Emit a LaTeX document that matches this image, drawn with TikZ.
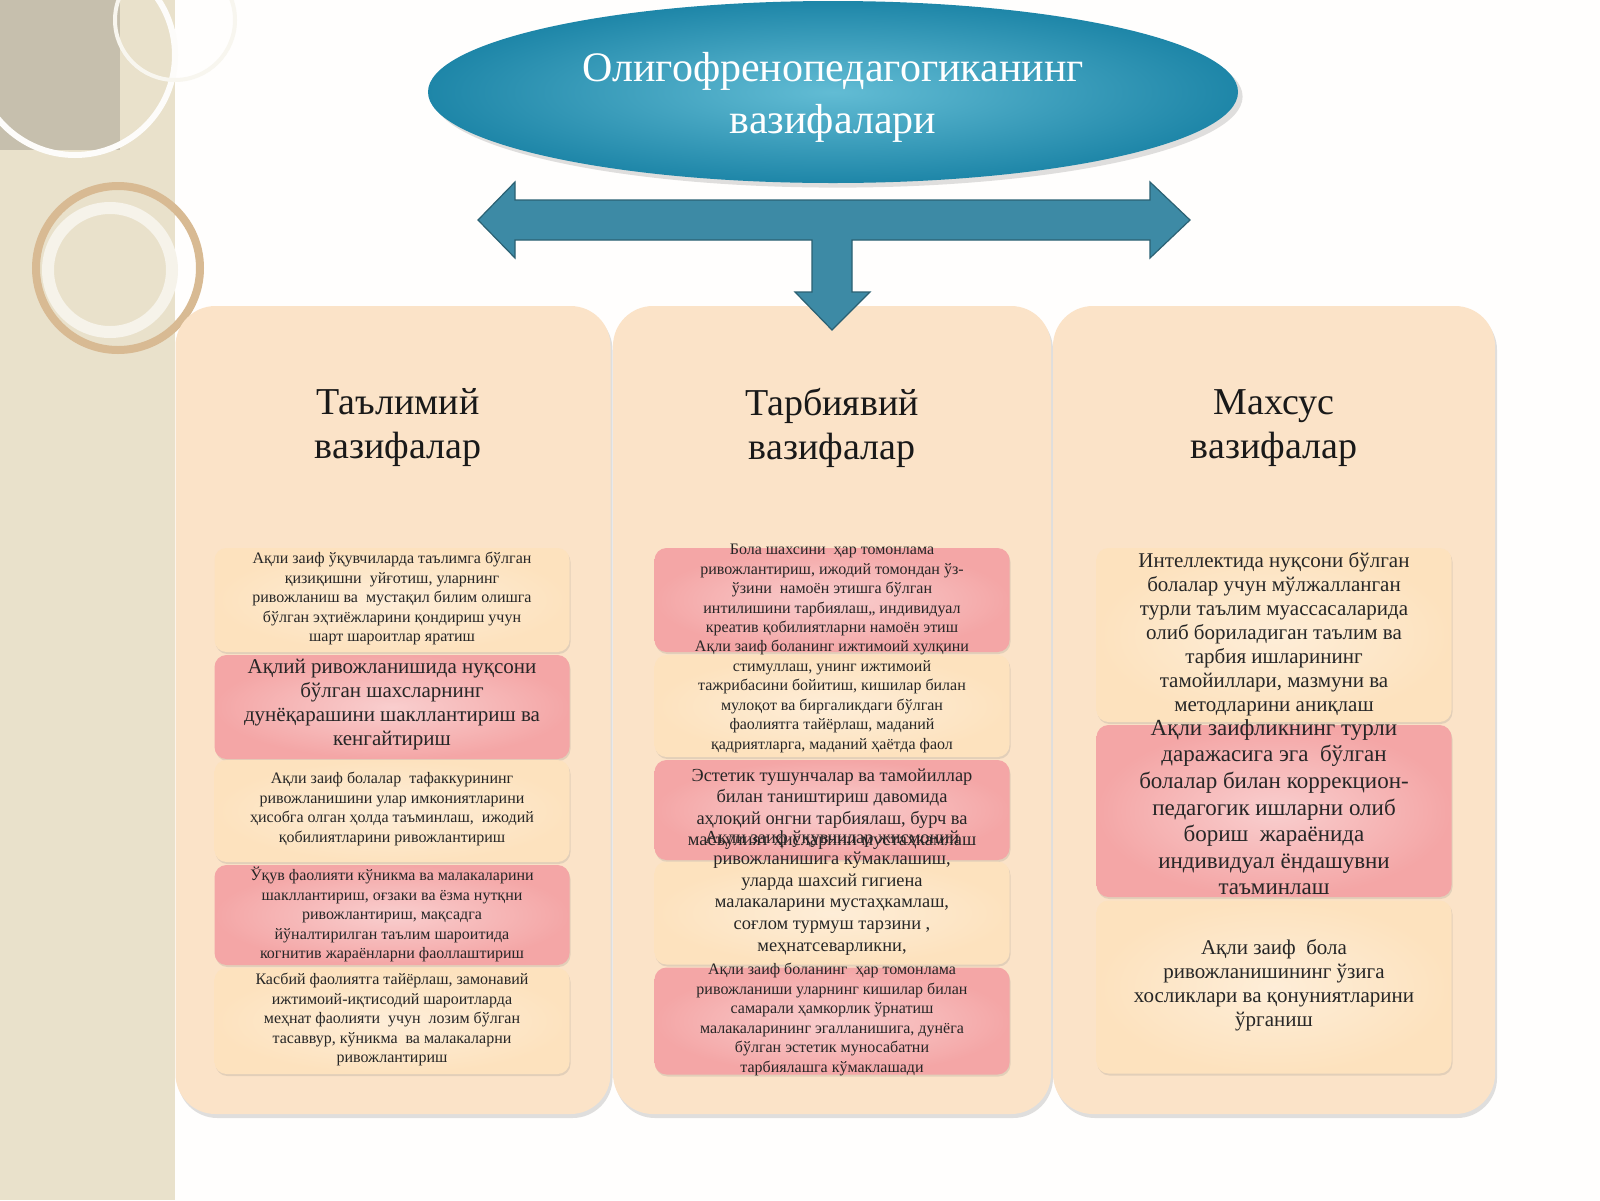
\documentclass[tikz,border=0pt]{standalone}
\usepackage{fontspec}
\setmainfont{Liberation Serif}
\usetikzlibrary{shadows,shapes.geometric}
\definecolor{peach}{HTML}{FBE3C8}
\definecolor{boxpeach}{HTML}{FDE2BE}
\definecolor{boxpink}{HTML}{F4A6A6}
\definecolor{teal1}{HTML}{1E86A8}
\definecolor{teal2}{HTML}{62BCD4}
\definecolor{arrowc}{HTML}{3D8AA5}
\definecolor{strip}{HTML}{E9E1CB}
\begin{document}
\begin{tikzpicture}[x=0.5pt,y=-0.5pt,
  col/.style={draw=none,fill=peach,rounded corners=20pt,drop shadow={shadow xshift=1pt,shadow yshift=-2pt,opacity=0.25}},
  bx/.style={rounded corners=6pt,draw=none,drop shadow={shadow xshift=0.5pt,shadow yshift=-1pt,opacity=0.2}},
  pe/.style={bx,inner color=boxpeach!60!white,outer color=boxpeach},
  pk/.style={bx,inner color=boxpink!55!white,outer color=boxpink},
  sm/.style={anchor=north,inner sep=0,align=center,font=\fontsize{8}{9.75}\selectfont,text=black!85},
  md/.style={anchor=north,inner sep=0,align=center,font=\fontsize{9.2}{10.8}\selectfont,text=black!85},
  lg/.style={anchor=north,inner sep=0,align=center,font=\fontsize{10.5}{12}\selectfont,text=black!85},
  hd/.style={align=center,inner sep=0,font=\fontsize{19}{22}\selectfont,text=black!90}]
\useasboundingbox (0,0) rectangle (1600,1200);
\fill[white!97!peach] (0,0) rectangle (1600,1200);
\fill[strip] (0,0) rectangle (175,1200);
\fill[black!15!strip] (0,0) rectangle (120,150);
\draw[white!90!strip,line width=3pt] (75,55) circle (100);
\draw[white!70!strip,line width=2pt] (175,20) circle (60);
\draw[brown!40!strip,line width=4pt] (118,268) circle (82);
\draw[white!60!strip,line width=6pt] (110,270) circle (62);
% columns
\node[col,minimum width=217.5pt,minimum height=404pt] (c1) at (393,710) {};
\node[col,minimum width=219pt,minimum height=404pt] (c2) at (832,710) {};
\node[col,minimum width=221pt,minimum height=404pt] (c3) at (1274,710) {};
% ellipse
\node[ellipse,minimum width=405pt,minimum height=91pt,draw=none,inner color=teal2,outer color=teal1,drop shadow={opacity=0.25}] (el) at (833,92) {};
\node[align=center,text=white,font=\fontsize{21}{26}\selectfont] (title) at (833,97) {Олигофренопедагогиканинг\\вазифалари};
% arrow
\filldraw[fill=arrowc,draw=arrowc!70!black,line width=0.6pt]
 (515,200) -- (1150,200) -- (1150,182) -- (1190,220) -- (1150,258) -- (1150,240)
 -- (852,240) -- (852,292) -- (870,292) -- (832,330) -- (795,292) -- (812,292)
 -- (812,240) -- (515,240) -- (515,258) -- (478,220) -- (515,182) -- cycle;
% headings
\node[hd] (h1) at (398,428) {Таълимий\\вазифалар};
\node[hd] (h2) at (832,428) {Тарбиявий\\вазифалар};
\node[hd] (h3) at (1274,428) {Махсус\\вазифалар};
% left column boxes
\node[pe,minimum width=177.5pt,minimum height=52pt] (l1) at (392,600) {};
\node[pk,minimum width=177.5pt,minimum height=52pt] (l2) at (392,707) {};
\node[pe,minimum width=177.5pt,minimum height=51pt] (l3) at (392,811) {};
\node[pk,minimum width=177.5pt,minimum height=50pt] (l4) at (392,915) {};
\node[pe,minimum width=177.5pt,minimum height=53pt] (l5) at (392,1021) {};
\node[sm] (lt1) at (392,552) {Ақли заиф ўқувчиларда таълимга бўлган\\қизиқишни \ уйғотиш, уларнинг\\ривожланиш ва \ мустақил билим олишга\\бўлган эҳтиёжларини қондириш учун\\шарт шароитлар яратиш};
\node[lg] (lt2) at (392,659) {Ақлий ривожланишида нуқсони\\бўлган шахсларнинг\\дунёқарашини шакллантириш ва\\кенгайтириш};
\node[sm] (lt3) at (392,772) {Ақли заиф болалар \ тафаккурининг\\ривожланишини улар имкониятларини\\ҳисобга олган ҳолда таъминлаш, \ ижодий\\қобилиятларини ривожлантириш};
\node[sm] (lt4) at (392,867) {Ўқув фаолияти кўникма ва малакаларини\\шакллантириш, оғзаки ва ёзма нутқни\\ривожлантириш, мақсадга\\йўналтирилган таълим шароитида\\когнитив жараёнларни фаоллаштириш};
\node[sm] (lt5) at (392,973) {Касбий фаолиятга тайёрлаш, замонавий\\ижтимоий-иқтисодий шароитларда\\меҳнат фаолияти \ учун \ лозим бўлган\\тасаввур, кўникма \ ва малакаларни\\ривожлантириш};
% middle column boxes
\node[pk,minimum width=177.5pt,minimum height=52pt] (m1) at (832,600) {};
\node[pe,minimum width=177.5pt,minimum height=51pt] (m2) at (832,706) {};
\node[pk,minimum width=177.5pt,minimum height=50pt] (m3) at (832,810) {};
\node[pe,minimum width=177.5pt,minimum height=51.5pt] (m4) at (832,913) {};
\node[pk,minimum width=177.5pt,minimum height=53.5pt] (m5) at (832,1021) {};
\node[sm] (mt1) at (832,544) {Бола шахсини \ ҳар томонлама\\ривожлантириш, ижодий томондан ўз-\\ўзини \ намоён этишга бўлган\\интилишини тарбиялаш,, индивидуал\\креатив қобилиятларни намоён этиш};
\node[sm] (mt2) at (832,640) {Ақли заиф боланинг ижтимоий хулқини\\стимуллаш, унинг ижтимоий\\тажрибасини бойитиш, кишилар билан\\мулоқот ва биргаликдаги бўлган\\фаолиятга тайёрлаш, маданий\\қадриятларга, маданий ҳаётда фаол};
\node[md] (mt3) at (832,768) {Эстетик тушунчалар ва тамойиллар\\билан таништириш давомида\\аҳлоқий онгни тарбиялаш, бурч ва\\масъулият ҳисларини мустаҳкамлаш};
\node[md] (mt4) at (832,830) {Ақли заиф ўқувчилар жисмоний\\ривожланишига кўмаклашиш,\\уларда шахсий гигиена\\малакаларини мустаҳкамлаш,\\соғлом турмуш тарзини ,\\меҳнатсеварликни,};
\node[sm] (mt5) at (832,963) {Ақли заиф боланинг \ ҳар томонлама\\ривожланиши уларнинг кишилар билан\\самарали ҳамкорлик ўрнатиш\\малакаларининг эгалланишига, дунёга\\бўлган эстетик муносабатни\\тарбиялашга кўмаклашади};
% right column boxes
\node[pe,minimum width=177.5pt,minimum height=87pt] (r1) at (1274,635) {};
\node[pk,minimum width=177.5pt,minimum height=86pt] (r2) at (1274,811) {};
\node[pe,minimum width=177.5pt,minimum height=86.5pt] (r3) at (1274,987) {};
\node[lg] (rt1) at (1274,552) {Интеллектида нуқсони бўлган\\болалар учун мўлжалланган\\турли таълим муассасаларида\\олиб бориладиган таълим ва\\тарбия ишларининг\\тамойиллари, мазмуни ва\\методларини аниқлаш};
\node[anchor=north,inner sep=0,align=center,font=\fontsize{11.5}{13.3}\selectfont,text=black!85] (rt2) at (1274,719) {Ақли заифликнинг турли\\даражасига эга \ бўлган\\болалар билан коррекцион-\\педагогик ишларни олиб\\бориш \ жараёнида\\индивидуал ёндашувни\\таъминлаш};
\node[lg] (rt3) at (1274,939) {Ақли заиф \ бола\\ривожланишининг ўзига\\хосликлари ва қонуниятларини\\ўрганиш};
\end{tikzpicture}
\end{document}
